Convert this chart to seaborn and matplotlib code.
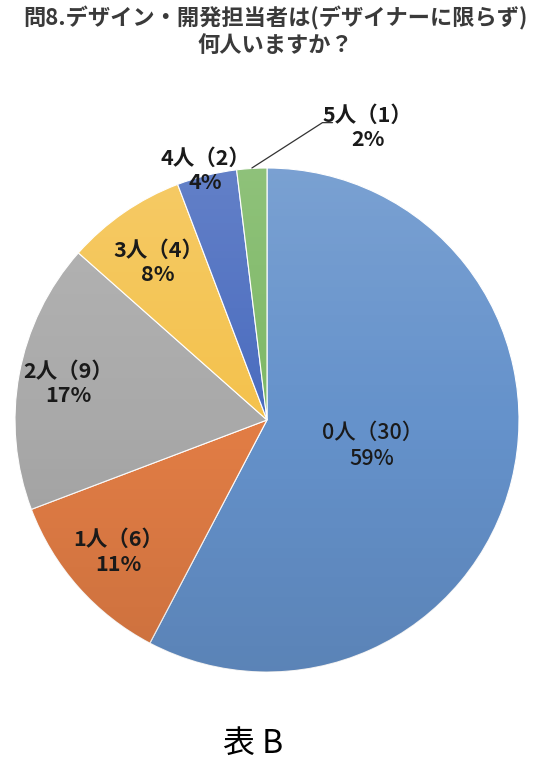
import numpy as np
import matplotlib.pyplot as plt
import seaborn as sns
from matplotlib.patches import Circle

# Data
categories = ["0人", "1人", "2人", "3人", "4人", "5人"]
counts = [30, 6, 9, 4, 2, 1]
pct_labels = ["59%", "11%", "17%", "8%", "4%", "2%"]
colors = ["#6592CB", "#E27D45", "#A9A9A9", "#F4C24D", "#4A6CBF", "#7DB865"]

sns.set_theme(style="white")
plt.rcParams['font.family'] = ['Noto Sans CJK JP', 'DejaVu Sans']

fig = plt.figure(figsize=(5.49, 7.66), dpi=100)
W, H = 549, 766
cx, cy, r = 267, 420, 252
ax = fig.add_axes([(cx - r) / W, (H - cy - r) / H, 2 * r / W, 2 * r / H])

wedges, _ = ax.pie(counts, colors=sns.color_palette(colors), startangle=90,
                   counterclock=False, radius=1,
                   wedgeprops=dict(edgecolor="white", linewidth=0.8))

# soft vertical shading like the original office-style gradient
grad = np.zeros((200, 2, 4))
t = np.linspace(0, 1, 200)[:, None]
grad[..., :3] = np.where(t[..., None] < 0.5, 1.0, 0.0)
grad[..., 3] = np.where(t < 0.5, 0.14 * (1 - 2 * t), 0.10 * (2 * t - 1))
img = ax.imshow(grad, extent=[-1, 1, -1, 1], origin="upper", zorder=3,
                interpolation="bilinear")
img.set_clip_path(Circle((0, 0), 1, transform=ax.transData))

# label positions (radial distance per slice)
dists = [0.43, 0.79, 0.80, 0.76, 1.02]
total = sum(counts)
cum = 0
for i, (cat, n, p) in enumerate(zip(categories, counts, pct_labels)):
    mid = cum + n / 2
    cum += n
    if i == 5:
        continue
    ang = np.deg2rad(90 - mid / total * 360)
    x, y = dists[i] * np.cos(ang), dists[i] * np.sin(ang)
    weight = "medium" if i == 0 else "bold"
    ax.text(x, y, f"{cat}（{n}）\n{p}", ha="center", va="center",
            fontsize=15.5, fontweight=weight, color="#1a1a1a",
            linespacing=1.2, zorder=5)

# small slice label with leader line
ax.plot([-0.06, 0.22, 0.26], [1.0, 1.18, 1.18], color="#333333", lw=0.9,
        clip_on=False, zorder=5)
ax.text(0.40, 1.16, f"{categories[5]}（{counts[5]}）\n{pct_labels[5]}",
        ha="center", va="center", fontsize=15.5, fontweight="bold",
        color="#1a1a1a", linespacing=1.2, zorder=5)

ax.set_xlim(-1, 1)
ax.set_ylim(-1, 1)
ax.set_aspect("equal")
ax.axis("off")

fig.text(275 / W, 1 - 32 / H, "問8.デザイン・開発担当者は(デザイナーに限らず)\n何人いますか？",
         ha="center", va="center", fontsize=16, fontweight="bold",
         color="#3a3a3a", linespacing=1.2)
fig.text(253 / W, 1 - 744 / H, "表 B", ha="center", va="center",
         fontsize=23, color="black")

fig.savefig("out.png", dpi=100)
